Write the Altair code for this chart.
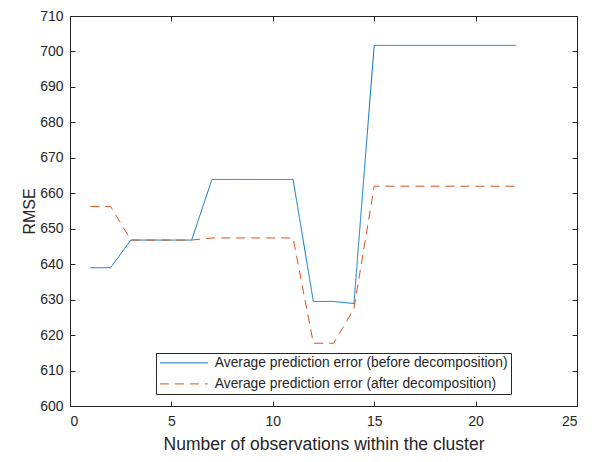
import altair as alt
import pandas as pd

x_vals = list(range(1, 23))
before = [639.0, 639.0, 646.8, 646.8, 646.8, 646.8,
          663.9, 663.9, 663.9, 663.9, 663.9,
          629.5, 629.5, 628.9,
          701.7, 701.7, 701.7, 701.7, 701.7, 701.7, 701.7, 701.7]
after = [656.3, 656.3, 646.8, 646.8, 646.8, 646.8,
         647.4, 647.4, 647.4, 647.4, 647.4,
         617.7, 617.7, 627.4,
         662.0, 662.0, 662.0, 662.0, 662.0, 662.0, 662.0, 662.0]
series_names = ["Average prediction error (before decomposition)",
                "Average prediction error (after decomposition)"]
x_ticks = [0, 5, 10, 15, 20, 25]
y_ticks = [600, 610, 620, 630, 640, 650, 660, 670, 680, 690, 700, 710]

rows = []
for name, vals in zip(series_names, [before, after]):
    for xv, yv in zip(x_vals, vals):
        rows.append({"x": xv, "rmse": yv, "series": name})
df = pd.DataFrame(rows)

W, H = 507, 390
FONT = "Liberation Sans"
TXT = "#262626"

xscale = alt.Scale(domain=[0, 25], nice=False, zero=False)
yscale = alt.Scale(domain=[600, 710], nice=False, zero=False)

tick_axis_common = dict(labels=False, domain=False, grid=False, ticks=True,
                        tickSize=5, tickColor=TXT, tickWidth=1, title=None)

lines = alt.Chart(df).mark_line(strokeWidth=1).encode(
    x=alt.X("x:Q", scale=xscale,
            axis=alt.Axis(values=x_ticks, orient="bottom", ticks=False, tickSize=0,
                          domain=False, grid=False, labelPadding=8,
                          labelFontSize=14, labelFont=FONT, labelColor=TXT,
                          title="Number of observations within the cluster",
                          titleFont=FONT, titleFontSize=17.5, titleFontWeight="normal",
                          titleColor=TXT, titlePadding=7)),
    y=alt.Y("rmse:Q", scale=yscale,
            axis=alt.Axis(values=y_ticks, orient="left", ticks=False, tickSize=0,
                          domain=False, grid=False, labelPadding=7,
                          labelFontSize=14, labelFont=FONT, labelColor=TXT,
                          title="RMSE", titleFont=FONT, titleFontSize=16,
                          titleFontWeight="normal", titleColor=TXT, titlePadding=2)),
    color=alt.Color("series:N", sort=series_names,
                    scale=alt.Scale(domain=series_names, range=["#0072BD", "#D95319"]),
                    legend=alt.Legend(title=None, orient="none", legendX=86, legendY=337,
                                      strokeColor=TXT, fillColor="white", padding=3,
                                      cornerRadius=0,
                                      symbolType="M-1,0H7", symbolSize=144,
                                      symbolStrokeWidth=1, labelOffset=42,
                                      rowPadding=6, labelFont=FONT, labelFontSize=13.8,
                                      labelColor=TXT, labelLimit=500)),
    strokeDash=alt.StrokeDash("series:N", sort=series_names,
                              scale=alt.Scale(domain=series_names, range=[[1, 0], [9, 6]]),
                              legend=None),
    detail="series:N",
)

ticks_a = alt.Chart(df).mark_line(opacity=0).encode(
    x=alt.X("x:Q", scale=xscale,
            axis=alt.Axis(values=x_ticks, orient="top", offset=-H, **tick_axis_common)),
    y=alt.Y("rmse:Q", scale=yscale,
            axis=alt.Axis(values=y_ticks, orient="right", offset=-W, **tick_axis_common)),
    detail="series:N",
)

ticks_b = alt.Chart(df).mark_line(opacity=0).encode(
    x=alt.X("x:Q", scale=xscale,
            axis=alt.Axis(values=x_ticks, orient="bottom", offset=-H, **tick_axis_common)),
    y=alt.Y("rmse:Q", scale=yscale,
            axis=alt.Axis(values=y_ticks, orient="left", offset=-W, **tick_axis_common)),
    detail="series:N",
)

chart = alt.layer(lines, ticks_a, ticks_b).resolve_axis(
    x="independent", y="independent"
).properties(
    width=W, height=H,
    autosize=alt.AutoSizeParams(type="none"),
    padding={"left": 62, "top": 8, "right": 16, "bottom": 48},
    background="white",
).configure_view(
    stroke=TXT, strokeWidth=1
)

chart.save("out.html", embed_options={"renderer": "svg", "actions": False})
